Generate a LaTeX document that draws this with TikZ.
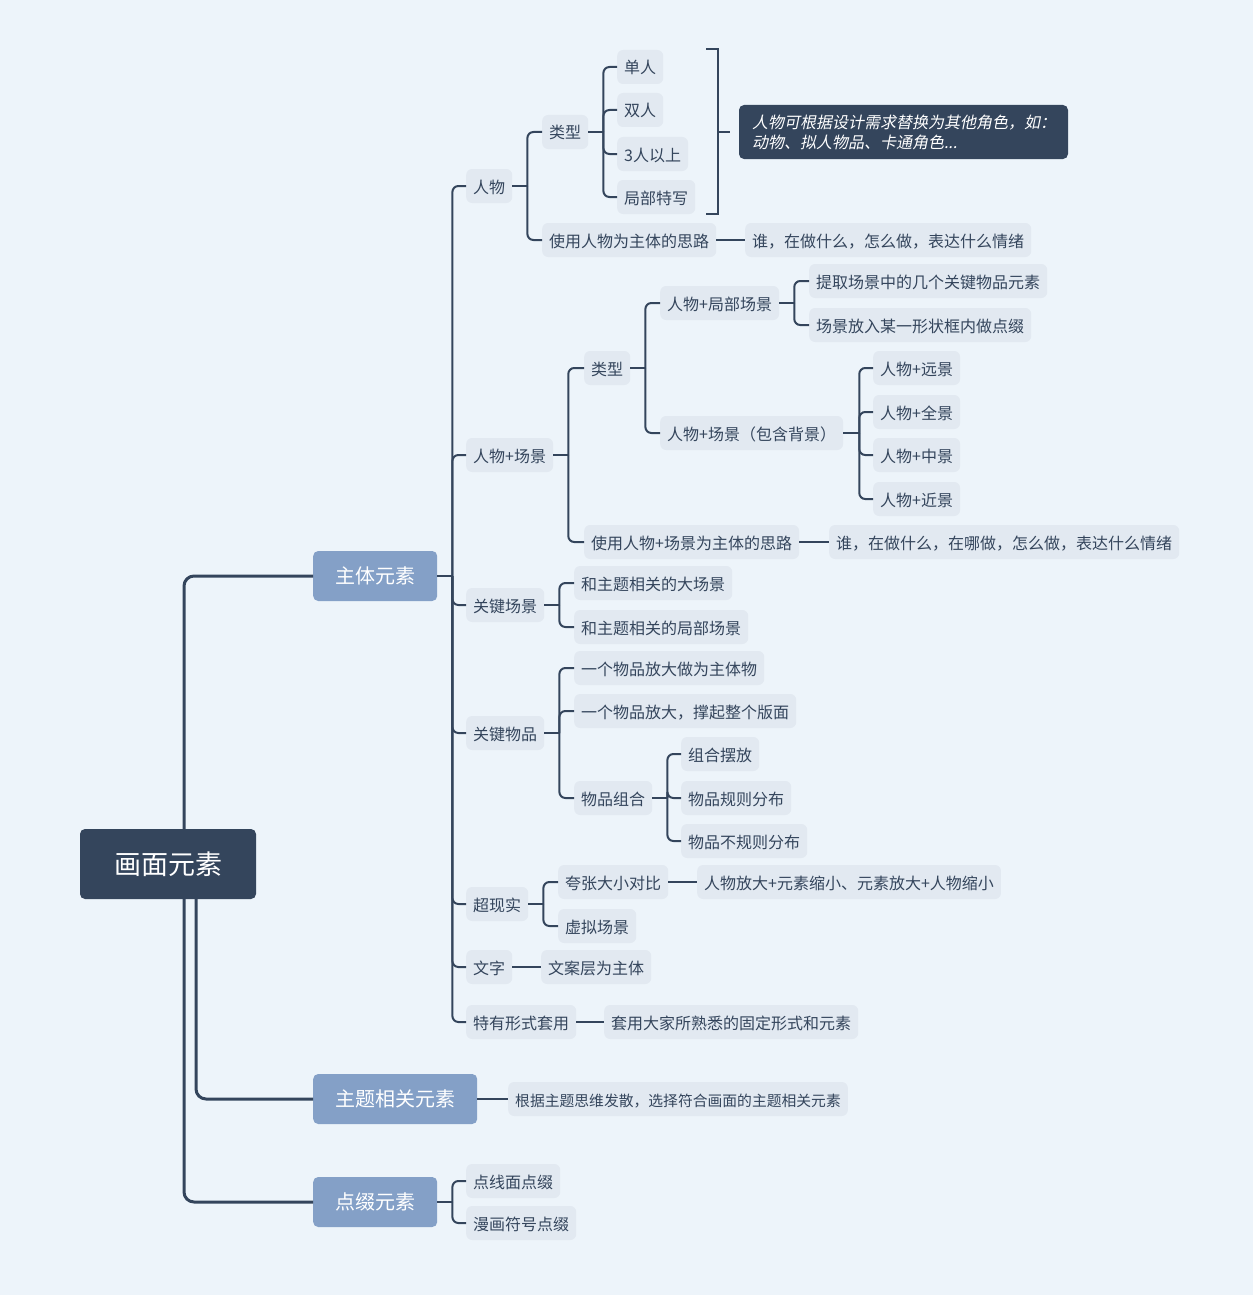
\documentclass[tikz,border=0pt]{standalone}
\usepackage{fontspec}
\setmainfont{Noto Sans CJK SC}
\newfontfamily\slantfont{Noto Sans CJK SC}[FakeSlant=0.2]
\usepackage{xcolor}
\definecolor{darkc}{HTML}{34455C}
\definecolor{bluec}{HTML}{84A0C7}
\definecolor{nodec}{HTML}{E2E9F1}
\definecolor{bgc}{HTML}{EDF4FA}

\begin{document}
\begin{tikzpicture}[x=1pt,y=-1pt,
    rootbox/.style={fill=darkc, text=white, rounded corners=5, minimum width=176, minimum height=70,
        font={\fontsize{27}{32}\selectfont}},
    mainbox/.style={fill=bluec, text=white, rounded corners=5, inner xsep=22, minimum height=50,
        anchor=west, font={\fontsize{20}{24}\selectfont}},
    topic/.style={fill=nodec, text=darkc, rounded corners=6, inner xsep=7, inner ysep=9,
        text height=15, text depth=1, anchor=west, font={\fontsize{16}{19}\selectfont}},
    notebox/.style={fill=darkc, text=white, rounded corners=5, inner xsep=13, text width=303,
        align=left, minimum height=54, font={\slantfont\fontsize{16}{20}\selectfont}},
    link/.style={draw=darkc, line width=2pt, rounded corners=6},
    trunk/.style={draw=darkc, line width=3pt, rounded corners=10}]

    % Background and frame
    \fill[bgc] (0,0) rectangle (1253,1295);
    \useasboundingbox (0,0) rectangle (1253,1295);

    % Root and main branches
    \node[rootbox] (root) at (168,864) {画面元素};
    \node[mainbox] (zt) at (313,576) {主体元素};
    \node[mainbox] (zx) at (313,1099) {主题相关元素};
    \node[mainbox] (dz) at (313,1202) {点缀元素};

    \draw[trunk] ([xshift=16]root.north) |- (zt.west);
    \draw[trunk] ([xshift=28]root.south) |- (zx.west);
    \draw[trunk] ([xshift=16]root.south) |- (dz.west);

    % Children of the main subject
    \node[topic] (renwu) at (466,186) {人物};
    \node[topic] (rwcj) at (466,455) {人物+场景};
    \node[topic] (gjcj) at (466,605) {关键场景};
    \node[topic] (gjwp) at (466,733) {关键物品};
    \node[topic] (cxs) at (466,904) {超现实};
    \node[topic] (wz) at (466,967) {文字};
    \node[topic] (tyxs) at (466,1022) {特有形式套用};

    \draw[link] (zt.east) -- ++(15,0);
    \foreach \c in {renwu,rwcj,gjcj,gjwp,cxs,wz,tyxs}
        \draw[link] ([xshift=15]zt.east) |- (\c.west);

    % People
    \node[topic] (lx1) at (542,132) {类型};
    \node[topic] (sl1) at (542,240) {使用人物为主体的思路};
    \node[topic] (dan) at (617,67) {单人};
    \node[topic] (shuang) at (617,110) {双人};
    \node[topic] (san) at (617,154) {3人以上};
    \node[topic] (jubu) at (617,197) {局部特写};
    \node[topic] (sl1a) at (745,240) {谁，在做什么，怎么做，表达什么情绪};
    \node[notebox] (note) at (903.5,132) {人物可根据设计需求替换为其他角色，如：\\动物、拟人物品、卡通角色...};

    \draw[link] (renwu.east) -- ++(15,0);
    \foreach \c in {lx1,sl1}
        \draw[link] ([xshift=15]renwu.east) |- (\c.west);
    \draw[link] (lx1.east) -- ++(15,0);
    \foreach \c in {dan,shuang,san,jubu}
        \draw[link] ([xshift=15]lx1.east) |- (\c.west);
    \draw[link] (sl1.east) -- (sl1a.west);

    % Summary bracket
    \coordinate (brtop) at (706,49);
    \coordinate (brbot) at (706,214);
    \coordinate (brmid) at (718,132);
    \coordinate (brtip) at (730,132);
    \draw[link, rounded corners=0] (brtop) -- ++(12,0) |- (brbot);
    \draw[link] (brmid) -- (brtip);

    % People and scene
    \node[topic] (lx2) at (584,368) {类型};
    \node[topic] (sl2) at (584,542) {使用人物+场景为主体的思路};
    \node[topic] (jbcj) at (660,303) {人物+局部场景};
    \node[topic] (bhbj) at (660,433) {人物+场景（包含背景）};
    \node[topic] (tq) at (809,281) {提取场景中的几个关键物品元素};
    \node[topic] (fr) at (809,325) {场景放入某一形状框内做点缀};
    \node[topic] (yj) at (873,368) {人物+远景};
    \node[topic] (qj) at (873,412) {人物+全景};
    \node[topic] (zj) at (873,455) {人物+中景};
    \node[topic] (jj) at (873,499) {人物+近景};
    \node[topic] (sl2a) at (829,542) {谁，在做什么，在哪做，怎么做，表达什么情绪};

    \draw[link] (rwcj.east) -- ++(15,0);
    \foreach \c in {lx2,sl2}
        \draw[link] ([xshift=15]rwcj.east) |- (\c.west);
    \draw[link] (lx2.east) -- ++(15,0);
    \foreach \c in {jbcj,bhbj}
        \draw[link] ([xshift=15]lx2.east) |- (\c.west);
    \draw[link] (jbcj.east) -- ++(15,0);
    \foreach \c in {tq,fr}
        \draw[link] ([xshift=15]jbcj.east) |- (\c.west);
    \draw[link] (bhbj.east) -- ++(16,0);
    \foreach \c in {yj,qj,zj,jj}
        \draw[link] ([xshift=16]bhbj.east) |- (\c.west);
    \draw[link] (sl2.east) -- (sl2a.west);

    % Key scenes and key objects
    \node[topic] (dcj) at (574,583) {和主题相关的大场景};
    \node[topic] (jcj) at (574,627) {和主题相关的局部场景};
    \node[topic] (wp1) at (574,668) {一个物品放大做为主体物};
    \node[topic] (wp2) at (574,711) {一个物品放大，撑起整个版面};
    \node[topic] (wpzh) at (574,798) {物品组合};
    \node[topic] (zhbf) at (681,754) {组合摆放};
    \node[topic] (gzfb) at (681,798) {物品规则分布};
    \node[topic] (bgzfb) at (681,841) {物品不规则分布};

    \draw[link] (gjcj.east) -- ++(15,0);
    \foreach \c in {dcj,jcj}
        \draw[link] ([xshift=15]gjcj.east) |- (\c.west);
    \draw[link] (gjwp.east) -- ++(15,0);
    \foreach \c in {wp1,wp2,wpzh}
        \draw[link] ([xshift=15]gjwp.east) |- (\c.west);
    \draw[link] (wpzh.east) -- ++(15,0);
    \foreach \c in {zhbf,gzfb,bgzfb}
        \draw[link] ([xshift=15]wpzh.east) |- (\c.west);

    % Surreal, text, set forms
    \node[topic] (kz) at (558,882) {夸张大小对比};
    \node[topic] (xn) at (558,926) {虚拟场景};
    \node[topic] (kza) at (697,882) {人物放大+元素缩小、元素放大+人物缩小};
    \node[topic] (wza) at (541,967) {文案层为主体};
    \node[topic] (tyxsa) at (604,1022) {套用大家所熟悉的固定形式和元素};

    \draw[link] (cxs.east) -- ++(15,0);
    \foreach \c in {kz,xn}
        \draw[link] ([xshift=15]cxs.east) |- (\c.west);
    \draw[link] (kz.east) -- (kza.west);
    \draw[link] (wz.east) -- (wza.west);
    \draw[link] (tyxs.east) -- (tyxsa.west);

    % Theme elements and decorations
    \node[topic, font={\fontsize{14.8}{18}\selectfont}] (zxa) at (508,1099) {根据主题思维发散，选择符合画面的主题相关元素};
    \node[topic] (dxm) at (466,1181) {点线面点缀};
    \node[topic] (mh) at (466,1223) {漫画符号点缀};

    \draw[link] (zx.east) -- (zxa.west);
    \draw[link] (dz.east) -- ++(15,0);
    \foreach \c in {dxm,mh}
        \draw[link] ([xshift=15]dz.east) |- (\c.west);
\end{tikzpicture}
\end{document}
